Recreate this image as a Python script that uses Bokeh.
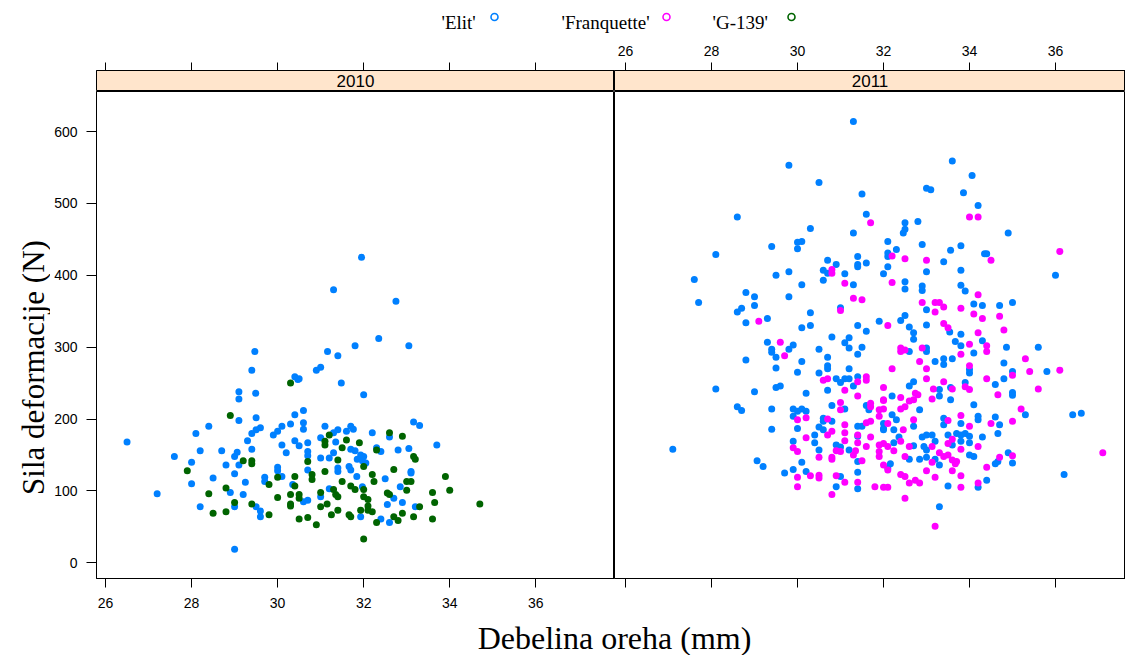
import math
from bokeh.plotting import figure
from bokeh.layouts import column, row
from bokeh.models import Range1d, FixedTicker, Label
from bokeh.embed import file_html
from bokeh.resources import INLINE
from bokeh.core.properties import value

# ---------------- data ----------------
years = ["2010", "2011"]
cultivars = ["'Elit'", "'Franquette'", "'G-139'"]
colors = ["#0080ff", "#ff00ff", "#006400"]
x_ticks = [26, 28, 30, 32, 34, 36]
y_ticks = [0, 100, 200, 300, 400, 500, 600]

# (thickness mm, deformation force N)
elit_2010 = [(26.5,168),(27.2,96),(27.6,148),(28.0,140),(28.0,110),(28.1,180),(28.2,156),(28.2,78),
    (28.4,190),(28.5,118),(28.7,156),(28.8,136),(28.9,98),(29.0,19),(29.0,124),(29.0,148),(29.0,78),
    (29.06,154),(29.1,136),(29.1,198),(29.1,238),(29.1,228),(29.2,95),(29.25,112),(29.3,170),
    (29.4,268),(29.47,294),(29.49,236),(29.5,202),(29.4,180),(29.5,185),(29.6,188),(29.9,178),
    (30.0,183),(30.1,190),(30.3,193),(30.4,206),(30.6,212),(30.6,195),(30.6,186),(31.1,190),
    (29.4,158),(30.1,164),(30.2,153),(30.4,170),(30.5,163),(30.7,167),(30.7,155),(30.7,149),
    (31.0,174),(31.0,146),(31.3,153),(31.2,146),(31.4,132),(31.4,127),(29.7,119),(29.7,113),
    (30.0,133),(30.0,128),(30.1,120),(30.35,109),(30.7,129),(31.2,103),(31.0,92),(30.6,85),
    (30.7,87),(29.5,78),(29.6,72),(29.6,64),(30.47,255),(31.48,250),(32.0,234),(33.16,196),
    (33.3,191),(33.7,164),(32.2,181),(32.6,175),(31.3,181),(31.4,185),(31.6,183),(31.7,190),
    (31.76,186),(31.35,168),(31.7,158),(31.8,156),(31.93,150),(32.0,148),(31.85,144),(31.97,142),
    (32.05,139),(32.3,160),(32.4,155),(32.8,157),(33.05,159),(31.66,134),(31.7,129),(33.1,127),
    (33.1,125),(31.84,120),(32.5,117),(32.85,106),(31.97,106),(32.7,90),(32.55,81),(32.9,84),
    (33.2,78),(31.93,64),(32.4,61),(32.6,56),(31.95,425),(31.3,380),(32.75,364),(32.35,312),
    (33.05,302),(31.8,302),(31.16,294),(31.4,288),(30.9,268),(31.0,272),(30.4,259),(30.5,256)]

g139_2010 = [(27.9,128),(28.4,96),(28.5,69),(28.8,104),(28.8,71),(28.9,205),(29.0,84),(29.2,142),
    (29.4,142),(29.4,138),(29.8,109),(30.0,119),(30.4,120),(30.4,107),(30.5,95),(30.5,90),(30.3,95),
    (30.3,82),(30.3,79),(30.7,141),(30.8,123),(30.8,116),(31.1,127),(31.0,98),(31.3,102),(31.35,95),
    (31.4,92),(31.0,78),(31.15,82),(31.4,73),(31.25,67),(30.9,53),(30.7,63),(30.5,61),(29.4,82),
    (29.8,67),(30.0,91),(30.3,250),(31.2,178),(31.6,171),(31.1,169),(31.1,164),(31.5,160),(31.4,143),
    (32.6,181),(32.9,176),(31.9,167),(32.3,157),(33.16,148),(33.2,144),(32.0,134),(32.7,130),
    (32.2,123),(32.24,113),(33.9,120),(33.0,113),(33.1,113),(33.0,101),(33.6,98),(34.0,101),
    (31.5,113),(31.7,107),(31.8,102),(32.0,102),(32.0,92),(32.55,97),(32.6,95),(32.1,88),(32.1,79),
    (32.1,73),(33.3,78),(33.65,84),(34.7,82),(31.93,73),(32.2,71),(31.66,67),(31.7,64),(32.3,56),
    (32.7,64),(32.8,59),(32.9,69),(33.16,64),(33.6,61),(32.0,33)]

elit_2011 = [(31.3,614),(29.8,553),(30.5,529),(31.5,513),(31.6,485),(28.6,481),(30.3,465),(28.1,429),
    (29.4,440),(30.0,446),(30.1,447),(30.0,437),(31.3,459),(32.1,447),(32.1,431),(32.1,426),(31.4,426),
    (31.4,415),(31.4,412),(31.6,417),(30.7,421),(30.9,415),(30.6,407),(30.7,403),(30.6,393),(31.1,402),
    (31.3,387),(32.0,402),(29.8,405),(29.5,400),(30.1,387),(27.6,394),(27.7,362),(28.8,376),(29.0,370),
    (29.0,358),(28.6,349),(28.7,354),(28.8,334),(29.3,340),(29.8,370),(30.3,348),(30.1,327),(30.3,330),
    (31.0,355),(31.4,330),(31.9,336),
    (33.6,559),(34.06,539),(33.0,521),(33.1,519),(33.86,515),(34.2,497),(34.9,459),(32.8,475),(32.5,473),
    (32.5,464),(32.46,459),(32.3,436),(32.1,412),(32.9,443),(33.4,419),(33.56,435),(33.8,441),(34.35,430),
    (34.4,430),(36.0,400),(33.0,405),(33.8,407),(32.5,391),(32.5,381),(32.9,385),(32.9,379),(33.8,386),
    (33.9,378),(33.0,352),(34.1,360),(34.3,358),(34.7,358),(35.0,362),(32.5,344),(32.4,337),(33.0,331),
    (32.6,328),
    (31.6,322),(30.8,314),(31.1,306),(31.2,313),(31.2,299),(31.5,300),(31.4,290),(29.3,307),(29.4,297),
    (29.4,293),(29.5,286),(29.8,297),(29.9,303),(30.5,297),(30.7,286),(28.8,282),(30.1,280),(29.5,271),
    (30.0,265),(30.7,274),(30.7,270),(30.5,264),(31.2,270),(30.9,256),(31.0,251),(31.1,256),(31.2,256),
    (31.3,246),(31.4,259),(30.7,240),(28.1,242),(29.0,238),(29.5,244),(29.6,246),(30.2,236),(31.1,214),
    (30.8,219),(28.6,217),(28.7,212),(29.4,214),(29.9,214),(29.9,204),(30.0,211),(30.1,214),(30.2,211),
    (30.0,187),(30.6,201),(30.6,197),(30.8,197),(30.5,189),(30.6,185),(31.4,190),(31.5,190),(31.4,176),
    (31.6,219),(31.66,213),(32.0,194),(32.0,187),(31.4,103),(31.4,126),(31.4,141),(31.2,157),(30.9,164),
    (31.0,161),(30.5,157),(30.4,178),(30.4,167),(29.9,169),(30.1,140),(29.9,130),(30.2,127),(29.7,125),
    (31.0,120),(30.9,106),(29.06,142),(29.2,134),(27.1,158),(29.4,186),
    (32.7,320),(32.7,311),(33.54,321),(33.8,318),(33.67,308),(33.8,302),(34.3,309),(34.86,300),(35.6,300),
    (34.1,292),(33.0,299),(33.0,294),(32.6,294),(33.2,280),(33.4,284),(33.4,276),(33.6,284),(34.0,269),
    (34.0,264),(34.8,278),(35.8,266),(35.0,266),(34.8,256),(34.6,248),(35.0,237),(35.0,233),(33.9,251),
    (33.56,244),(32.7,252),(32.6,246),(33.3,241),(33.3,232),(33.56,227),(32.2,232),(32.84,213),(34.1,220),
    (35.3,206),(36.4,206),(36.6,208),(32.2,206),(32.3,199),(32.7,190),(32.0,185),(32.24,185),(33.4,201),
    (33.4,192),(33.8,194),(34.2,204),(34.2,199),(34.6,203),(34.7,192),(34.66,180),(34.3,175),(33.7,180),
    (33.8,178),(33.9,180),(34.0,176),(33.8,169),(34.0,167),(33.5,178),(33.6,164),(32.9,175),(33.0,178),
    (33.13,178),(33.2,169),(32.94,162),(33.0,157),(32.7,163),(32.36,175),(32.24,167),(32.6,144),(32.84,144),
    (33.0,147),(33.2,144),(33.3,136),(34.0,150),(34.1,148),(34.6,138),(34.66,141),(34.9,153),(35.0,139),
    (33.5,107),(34.2,105),(34.4,115),(33.3,78),(36.2,123),(32.16,138),(32.1,132)]

franq_2011 = [(31.7,473),(30.8,408),(30.8,403),(31.1,389),(29.1,336),(31.3,368),(31.5,366),(31.0,351),
    (32.1,330),
    (34.0,481),(34.2,481),(32.2,427),(32.5,423),(33.0,421),(34.5,421),(36.1,433),(32.2,390),(34.2,373),
    (32.9,362),(33.2,362),(33.3,362),(33.2,349),(33.4,356),(33.8,354),(34.1,346),(34.3,340),(34.7,343),
    (33.4,333),(33.5,327),(34.8,324),
    (29.6,307),(29.7,288),(30.6,254),(30.7,256),(31.1,240),(31.4,252),(31.6,259),(31.6,254),(32.0,244),
    (31.4,232),(31.0,223),(31.0,213),(30.2,202),(30.0,199),(30.7,200),(30.7,178),(30.8,183),(31.1,192),
    (31.1,181),(31.1,170),(31.6,195),(31.7,197),(31.4,178),(31.7,175),(31.4,167),(31.6,162),(31.9,213),
    (32.0,214),(31.9,204),(32.0,227),(31.7,222),(31.7,217),(31.9,164),(32.0,166),(32.1,162),(31.9,155),
    (31.9,148),(32.0,136),(32.1,129),(32.0,105),(32.1,105),(31.8,106),(31.4,112),(31.5,142),(31.3,150),
    (31.35,156),(30.9,156),(31.0,155),(30.8,147),(30.8,144),(30.5,147),(30.2,174),(29.9,160),(30.0,155),
    (30.0,119),(30.0,106),(30.3,121),(30.5,122),(30.5,118),(30.8,95),(30.9,121),(31.1,112),
    (34.2,320),(34.0,304),(34.4,302),(34.4,294),(33.8,290),(32.9,299),(32.4,299),(32.4,294),(32.5,296),
    (32.84,280),(34.0,274),(35.3,284),(35.4,266),(36.1,268),(35.0,261),(32.2,270),(33.0,270),(34.4,256),
    (35.6,242),(34.66,234),(33.0,256),(33.4,252),(34.0,241),(33.9,245),(33.6,242),(32.74,236),(32.8,234),
    (32.7,227),(32.6,225),(32.5,217),(32.4,214),(33.16,242),(33.13,228),(32.4,230),(32.0,226),(35.2,214),
    (32.7,199),(32.1,194),(32.46,185),(33.5,198),(33.8,205),(34.0,190),(34.5,194),(35.0,197),(34.2,162),
    (33.6,172),(33.5,166),(33.8,158),(33.13,162),(32.6,162),(32.4,169),(32.24,156),(32.5,148),(33.13,140),
    (33.3,153),(33.4,148),(33.5,150),(33.6,143),(33.67,138),(33.7,141),(34.4,133),(34.7,147),(35.0,149),
    (33.0,128),(33.2,119),(33.6,128),(33.8,121),(32.4,123),(32.5,120),(32.6,111),(32.74,115),(32.84,111),
    (32.5,90),(33.8,105),(34.2,111),(33.2,51),(37.1,153)]

# axis limits (lattice-extended ranges)
x_lim_2010 = (25.79, 37.83)
x_lim_2011 = (25.744, 37.628)
y_lim = (-21.8, 655.7)

# ---------------- styles / layout ----------------
SANS = "Liberation Sans"
SERIF = "Liberation Serif"
STRIP_BG = "#ffe5cc"
TICK_FS = "14px"
PT_SIZE = 7
YLAB_W = 50          # width of the column holding the y-axis title
AXIS_W = 46          # room left for the y tick labels

xr_l = Range1d(*x_lim_2010)
xr_r = Range1d(*x_lim_2011)
yr = Range1d(*y_lim)

common = dict(output_backend="svg", toolbar_location=None)


def style_axis(ax, tick_out, standoff, show_labels):
    ax.ticker = FixedTicker(ticks=x_ticks)
    ax.major_tick_in = 0
    ax.major_tick_out = tick_out
    ax.minor_tick_line_color = None
    ax.major_tick_line_color = "black"
    ax.axis_line_color = "black"
    ax.major_label_standoff = standoff
    ax.major_label_text_font = SANS
    ax.major_label_text_font_size = TICK_FS
    ax.major_label_text_color = "black"
    if not show_labels:
        ax.major_label_overrides = {t: "" for t in x_ticks}


def strip_fig(xr, width, left, label_text, show_labels):
    p = figure(width=width, height=55, x_range=xr, y_range=Range1d(0, 1),
               x_axis_location="above", y_axis_location=None,
               min_border_left=left, min_border_right=0, min_border_top=34,
               min_border_bottom=0, **common)
    p.grid.visible = False
    p.background_fill_color = STRIP_BG
    p.outline_line_color = "black"
    p.outline_line_width = 1
    style_axis(p.xaxis[0], 8, 7, show_labels)
    p.add_layout(Label(x=(xr.start + xr.end) / 2, y=0.5, text=label_text,
                       text_align="center", text_baseline="middle",
                       text_font=SANS, text_font_size="17px", text_color="black"))
    return p


def main_fig(xr, width, left, show_x_labels, show_y):
    p = figure(width=width, height=529, x_range=xr, y_range=yr,
               x_axis_location="below", y_axis_location="left" if show_y else None,
               min_border_left=left, min_border_right=0, min_border_top=0,
               min_border_bottom=42, **common)
    p.grid.visible = False
    p.outline_line_color = "black"
    p.outline_line_width = 1
    style_axis(p.xaxis[0], 9, 10, show_x_labels)
    if show_y:
        ay = p.yaxis[0]
        ay.ticker = FixedTicker(ticks=y_ticks)
        ay.major_tick_in = 0
        ay.major_tick_out = 10
        ay.minor_tick_line_color = None
        ay.major_tick_line_color = "black"
        ay.axis_line_color = "black"
        ay.major_label_standoff = 9
        ay.major_label_text_font = SANS
        ay.major_label_text_font_size = TICK_FS
        ay.major_label_text_color = "black"
    return p


def add_points(p, pts, color):
    p.scatter([a for a, b in pts], [b for a, b in pts], size=PT_SIZE, marker="circle",
              fill_color=color, line_color=None)


strip_l = strip_fig(xr_l, 518 + AXIS_W, AXIS_W, years[0], False)
strip_r = strip_fig(xr_r, 511, 0, years[1], True)

main_l = main_fig(xr_l, 518 + AXIS_W, AXIS_W, True, True)
main_r = main_fig(xr_r, 511, 0, False, False)

add_points(main_l, elit_2010, colors[0])
add_points(main_l, g139_2010, colors[2])
add_points(main_r, elit_2011, colors[0])
add_points(main_r, franq_2011, colors[1])

# y-axis title column
ylab_h = 55 + 529
ylab = figure(width=YLAB_W, height=ylab_h, x_range=Range1d(0, YLAB_W), y_range=Range1d(0, ylab_h),
              x_axis_location=None, y_axis_location=None, min_border=0, **common)
ylab.grid.visible = False
ylab.outline_line_color = None
ylab.add_layout(Label(x=33, y=253, text="Sila deformacije (N)", angle=math.pi / 2,
                      text_align="center", text_baseline="middle", text_font=SERIF,
                      text_font_size="31px", text_color="black"))

# legend (label followed by open circle, as in lattice key)
leg = figure(width=1125, height=36, x_range=Range1d(0, 1125), y_range=Range1d(36, 0),
             x_axis_location=None, y_axis_location=None, min_border=0, **common)
leg.grid.visible = False
leg.outline_line_color = None
leg_text_x = [441, 561, 712]
leg_mark_x = [494, 666, 791]
leg.text(x=leg_text_x, y=[21.5, 21.5, 21.5], text=cultivars, text_font=value(SERIF),
         text_font_size="19px", text_align="left", text_baseline="middle",
         text_color="black")
leg.scatter(x=leg_mark_x, y=[16.5, 16.5, 16.5], size=7, marker="circle",
            fill_color=None, line_color=colors, line_width=1.6)

# shared x-axis title
xl = figure(width=1125, height=35, x_range=Range1d(0, 1125), y_range=Range1d(35, 0),
            x_axis_location=None, y_axis_location=None, min_border=0, **common)
xl.grid.visible = False
xl.outline_line_color = None
xl.add_layout(Label(x=614, y=17, text="Debelina oreha (mm)", text_align="center",
                    text_baseline="middle", text_font=SERIF, text_font_size="32px",
                    text_color="black"))

panels = column(row(strip_l, strip_r), row(main_l, main_r))
layout = column(leg, row(ylab, panels), xl)

open("out.html", "w").write(file_html(layout, INLINE))
